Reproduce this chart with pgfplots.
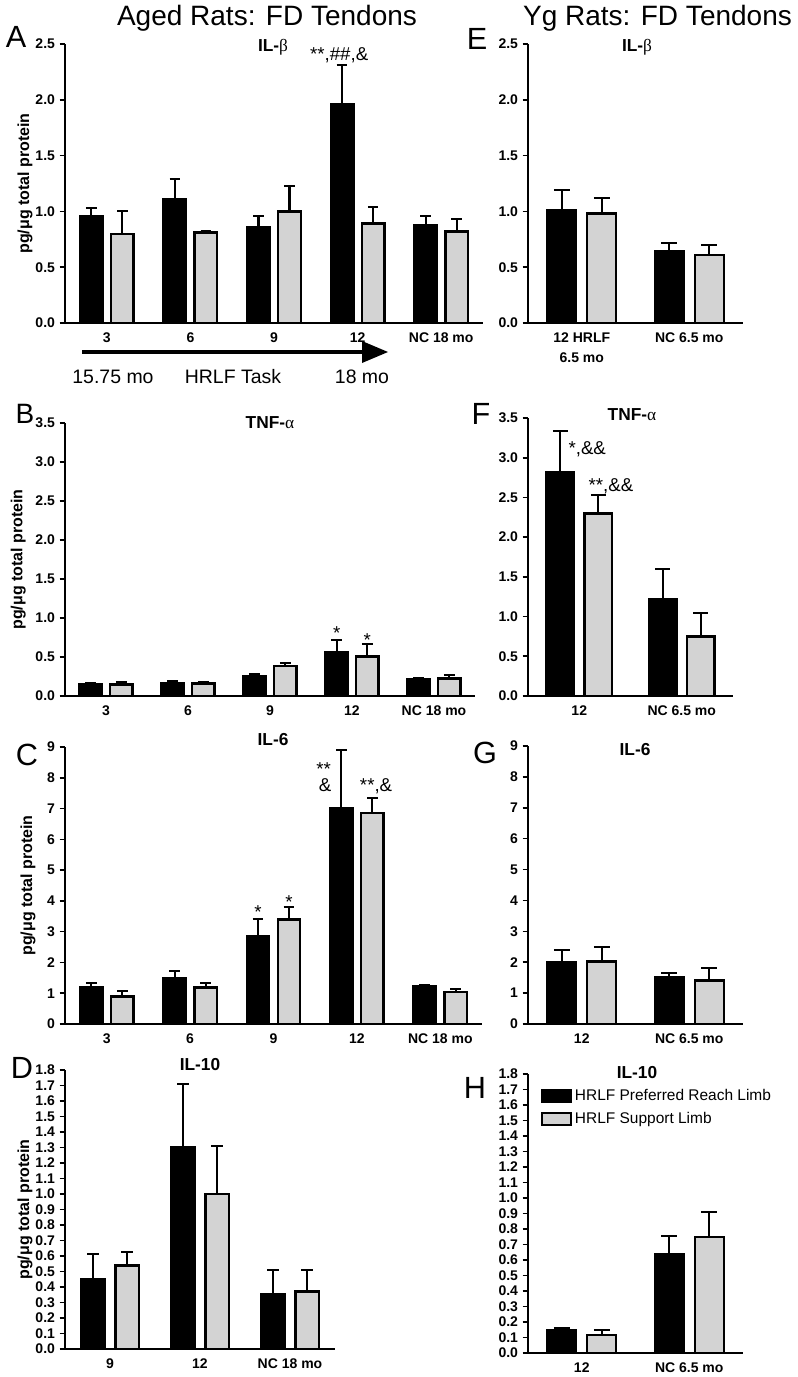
\documentclass[border=0pt]{standalone}
\usepackage{pgfplots}
\pgfplotsset{compat=1.18}
\usepackage{fontspec}
\setmainfont{Liberation Sans}
\newfontfamily\symf{Liberation Serif}
\definecolor{barg}{RGB}{211,211,211}
\pgfplotsset{
  panel/.style={
    scale only axis, anchor=south west,
    axis x line*=bottom, axis y line*=left,
    axis line style={-, line width=2pt, black},
    xmin=-0.5, ymin=0, enlargelimits=false,
    ybar, bar width=0.27,
    xtick style={draw=none},
    ytick style={line width=1.2pt, black},
    tick align=outside, major tick length=4pt,
    ticklabel style={font=\bfseries\fontsize{10.5}{15}\selectfont, black},
    /pgf/number format/assume math mode=true,
    clip=false,
    error bars/y dir=plus, error bars/y explicit,
    error bars/error bar style={line width=1.6pt, black},
    ylabel style={font=\bfseries\fontsize{12}{14}\selectfont, anchor=center},
  },
  onedec/.style={yticklabel style={/pgf/number format/fixed, /pgf/number format/fixed zerofill, /pgf/number format/precision=1}},
  cap/.style={error bars/error mark options={rotate=90, mark size=#1, line width=1.6pt, black}},
  blk/.style={fill=black, draw=black, line width=1.8pt, bar shift=-0.186},
  gry/.style={fill=barg, draw=black, line width=1.8pt, bar shift=0.186},
  lgd/.style={legend image code/.code={\draw[##1, line width=1.6pt] (0pt,-4.5pt) rectangle (21.75pt,4.5pt);}},
}
\newcommand{\ann}{\fontsize{14}{15}\selectfont}
\newcommand{\ttl}{\bfseries\fontsize{13}{15}\selectfont}
\begin{document}
\begin{tikzpicture}[x=0.75pt, y=0.75pt]
\path[use as bounding box] (0,0) rectangle (797,-1377);

% ---------- A ----------
\begin{axis}[panel, onedec, cap=4pt,
  at={(48.75pt,-242.25pt)}, width=313.5pt, height=209.25pt,
  xmax=4.5, ymax=2.5, ytick={0,0.5,1,1.5,2,2.5},
  xtick={0,1,2,3,4}, xticklabels={3,6,9,12,NC 18 mo},
  ylabel={pg/μg total protein}, ylabel style={at={(axis description cs:-0.0957,0.5)}}]
\addplot[blk] coordinates {(0,0.96) +- (0,0.07) (1,1.11) +- (0,0.18) (2,0.86) +- (0,0.10) (3,1.96) +- (0,0.35) (4,0.88) +- (0,0.08)};
\addplot[gry] coordinates {(0,0.80) +- (0,0.20) (1,0.81) +- (0,0.01) (2,1.00) +- (0,0.23) (3,0.89) +- (0,0.15) (4,0.82) +- (0,0.11)};
\node[anchor=base, font=\ann] at (axis cs:2.78,2.35) {**,\#\#,\&};
\end{axis}

% ---------- E ----------
\begin{axis}[panel, onedec, cap=6pt,
  at={(396pt,-242.25pt)}, width=161.25pt, height=209.25pt,
  xmax=1.5, ymax=2.5, ytick={0,0.5,1,1.5,2,2.5},
  xtick={0,1}, xticklabels={{12 HRLF\\6.5 mo},{NC 6.5 mo}}, xticklabel style={align=center}]
\addplot[blk] coordinates {(0,1.01) +- (0,0.18) (1,0.64) +- (0,0.08)};
\addplot[gry] coordinates {(0,0.98) +- (0,0.14) (1,0.61) +- (0,0.09)};
\end{axis}

% ---------- B ----------
\begin{axis}[panel, onedec, cap=4pt,
  at={(48.75pt,-522pt)}, width=307.5pt, height=204.75pt,
  xmax=4.5, ymax=3.5, ytick={0,0.5,1,1.5,2,2.5,3,3.5},
  xtick={0,1,2,3,4}, xticklabels={3,6,9,12,NC 18 mo},
  ylabel={pg/μg total protein}, ylabel style={at={(axis description cs:-0.114,0.5)}}]
\addplot[blk] coordinates {(0,0.155) +- (0,0.005) (1,0.17) +- (0,0.02) (2,0.257) +- (0,0.03) (3,0.56) +- (0,0.16) (4,0.214) +- (0,0.01)};
\addplot[gry] coordinates {(0,0.15) +- (0,0.034) (1,0.16) +- (0,0.015) (2,0.385) +- (0,0.035) (3,0.505) +- (0,0.165) (4,0.227) +- (0,0.043)};
\node[anchor=base, font=\ann] at (axis cs:2.814,0.73) {*};
\node[anchor=base, font=\ann] at (axis cs:3.186,0.64) {*};
\end{axis}

% ---------- F ----------
\begin{axis}[panel, onedec, cap=5.5pt,
  at={(396pt,-522pt)}, width=153.75pt, height=208.5pt,
  xmax=1.5, ymax=3.5, ytick={0,0.5,1,1.5,2,2.5,3,3.5},
  xtick={0,1}, xticklabels={12,NC 6.5 mo}]
\addplot[blk] coordinates {(0,2.82) +- (0,0.52) (1,1.22) +- (0,0.38)};
\addplot[gry] coordinates {(0,2.30) +- (0,0.23) (1,0.75) +- (0,0.29)};
\node[anchor=base west, font=\ann] at (axis cs:-0.15,3.04) {*,\&\&};
\node[anchor=base, font=\ann] at (axis cs:0.31,2.57) {**,\&\&};
\end{axis}

% ---------- C ----------
\begin{axis}[panel, cap=4pt,
  at={(48.75pt,-768pt)}, width=312.75pt, height=207.75pt,
  xmax=4.5, ymax=9, ytick={0,1,2,3,4,5,6,7,8,9},
  xtick={0,1,2,3,4}, xticklabels={3,6,9,12,NC 18 mo},
  ylabel={pg/μg total protein}, ylabel style={at={(axis description cs:-0.0887,0.5)}}]
\addplot[blk] coordinates {(0,1.19) +- (0,0.14) (1,1.49) +- (0,0.24) (2,2.84) +- (0,0.57) (3,7.02) +- (0,1.89) (4,1.22) +- (0,0.03)};
\addplot[gry] coordinates {(0,0.90) +- (0,0.16) (1,1.18) +- (0,0.14) (2,3.39) +- (0,0.42) (3,6.85) +- (0,0.50) (4,1.04) +- (0,0.11)};
\node[anchor=base, font=\ann] at (axis cs:1.814,3.42) {*};
\node[anchor=base, font=\ann] at (axis cs:2.186,3.75) {*};
\node[anchor=base, font=\ann] at (axis cs:2.6,8.06) {**};
\node[anchor=base, font=\ann] at (axis cs:2.62,7.54) {\&};
\node[anchor=base, font=\ann] at (axis cs:3.23,7.54) {**,\&};
\end{axis}

% ---------- G ----------
\begin{axis}[panel, cap=6pt,
  at={(396pt,-768pt)}, width=161.25pt, height=208.5pt,
  xmax=1.5, ymax=9, ytick={0,1,2,3,4,5,6,7,8,9},
  xtick={0,1}, xticklabels={12,NC 6.5 mo}]
\addplot[blk] coordinates {(0,1.99) +- (0,0.42) (1,1.52) +- (0,0.14)};
\addplot[gry] coordinates {(0,2.03) +- (0,0.45) (1,1.41) +- (0,0.41)};
\end{axis}

% ---------- D ----------
\begin{axis}[panel, onedec, cap=4.3pt, bar width=0.26,
  at={(48.75pt,-1011.75pt)}, width=202.5pt, height=209.25pt,
  xmax=2.5, ymax=1.8, ytick={0,0.1,0.2,0.3,0.4,0.5,0.6,0.7,0.8,0.9,1.0,1.1,1.2,1.3,1.4,1.5,1.6,1.7,1.8},
  xtick={0,1,2}, xticklabels={9,12,NC 18 mo},
  ylabel={pg/μg total protein}, ylabel style={at={(axis description cs:-0.148,0.5)}}]
\addplot[blk, bar shift=-0.19] coordinates {(0,0.449) +- (0,0.165) (1,1.30) +- (0,0.41) (2,0.354) +- (0,0.157)};
\addplot[gry, bar shift=0.19] coordinates {(0,0.539) +- (0,0.086) (1,1.00) +- (0,0.31) (2,0.372) +- (0,0.139)};
\end{axis}

% ---------- H ----------
\begin{axis}[panel, onedec, cap=6pt,
  at={(396pt,-1014.75pt)}, width=161.25pt, height=209.25pt,
  xmax=1.5, ymax=1.8, ytick={0,0.1,0.2,0.3,0.4,0.5,0.6,0.7,0.8,0.9,1.0,1.1,1.2,1.3,1.4,1.5,1.6,1.7,1.8},
  xtick={0,1}, xticklabels={12,NC 6.5 mo},
  legend cell align=left,
  legend style={at={(0.06,0.955)}, anchor=north west, draw=none, fill=none, inner sep=0pt,
    font=\fontsize{11.6}{13}\selectfont, row sep=3pt}]
\addplot[blk, lgd] coordinates {(0,0.146) +- (0,0.015) (1,0.639) +- (0,0.118)};
\addlegendentry{HRLF Preferred Reach Limb}
\addplot[gry, lgd] coordinates {(0,0.116) +- (0,0.034) (1,0.748) +- (0,0.16)};
\addlegendentry{HRLF Support Limb}
\end{axis}

% ---------- annotations ----------
\node[anchor=base, font=\fontsize{21}{24}\selectfont] at (267,-26) {Aged Rats: FD Tendons};
\node[anchor=base, font=\fontsize{21}{24}\selectfont] at (657.5,-26) {Yg Rats: FD Tendons};

\begin{scope}[every node/.style={font=\fontsize{23}{26}\selectfont, inner sep=0pt}]
\node at (16,-37) {A};
\node at (477,-39) {E};
\node[font=\fontsize{21}{24}\selectfont] at (25,-414) {B};
\node at (481,-414) {F};
\node at (27,-755) {C};
\node at (485,-753) {G};
\node at (22,-1068) {D};
\node at (475,-1088) {H};
\end{scope}

\node[font=\ttl] at (273,-47) {IL-{\symf\mdseries β}};
\node[font=\ttl] at (637,-47) {IL-{\symf\mdseries β}};
\node[font=\ttl] at (270,-423) {TNF-{\symf\mdseries α}};
\node[font=\ttl] at (632,-415) {TNF-{\symf\mdseries α}};
\node[font=\ttl] at (273,-740) {IL-6};
\node[font=\ttl] at (635,-750) {IL-6};
\node[font=\ttl] at (200,-1065) {IL-10};
\node[font=\ttl] at (637,-1073) {IL-10};

\draw[line width=3pt] (82,-352) -- (366,-352);
\fill (362,-341) -- (388,-352) -- (362,-363) -- cycle;
\node[font=\fontsize{14.6}{16}\selectfont] at (113,-377) {15.75 mo};
\node[font=\fontsize{14.6}{16}\selectfont] at (233,-377) {HRLF Task};
\node[font=\fontsize{14.6}{16}\selectfont] at (362,-377) {18 mo};
\end{tikzpicture}
\end{document}
